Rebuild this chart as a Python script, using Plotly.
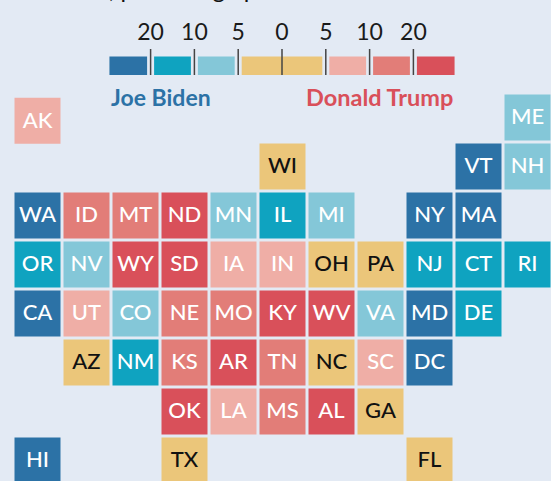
import plotly.graph_objects as go

BG = "#e3eaf4"
PALETTE = {"D3": "#2c72a6", "D2": "#0fa3c0", "D1": "#84c7d8", "N": "#ebc67a",
           "R1": "#efaea6", "R2": "#e27d78", "R3": "#d9505a"}

states = ["AK","ME","WI","VT","NH",
          "WA","ID","MT","ND","MN","IL","MI","NY","MA",
          "OR","NV","WY","SD","IA","IN","OH","PA","NJ","CT","RI",
          "CA","UT","CO","NE","MO","KY","WV","VA","MD","DE",
          "AZ","NM","KS","AR","TN","NC","SC","DC",
          "OK","LA","MS","AL","GA",
          "HI","TX","FL"]
cols = [0,10,5,9,10,
        0,1,2,3,4,5,6,8,9,
        0,1,2,3,4,5,6,7,8,9,10,
        0,1,2,3,4,5,6,7,8,9,
        1,2,3,4,5,6,7,8,
        3,4,5,6,7,
        0,3,8]
rows = [0.07,0,1,1,1,
        2,2,2,2,2,2,2,2,2,
        3,3,3,3,3,3,3,3,3,3,3,
        4,4,4,4,4,4,4,4,4,4,
        5,5,5,5,5,5,5,5,
        6,6,6,6,6,
        7,7,7]
bands = ["R1","D1","N","D3","D1",
         "D3","R2","R2","R3","D1","D2","D1","D3","D3",
         "D2","D1","R3","R3","R1","R1","N","N","D2","D2","D2",
         "D3","R1","D1","R2","R2","R3","R3","D1","D3","D2",
         "N","D2","R2","R3","R2","N","R1","D3",
         "R3","R1","R2","R3","N",
         "D3","N","N"]

# Legend, on a scale of equal class steps around 0
legend_bands = ["D3","D2","D1","N","R1","R2","R3"]
legend_lo = [-3.94,-3.0,-2.0,-1.0,1.0,2.0,3.0]
legend_hi = [-3.0,-2.0,-1.0,1.0,2.0,3.0,3.94]
tick_pos = [-3,-2,-1,0,1,2,3]
tick_labels = ["20","10","5","0","5","10","20"]

# scales: grid unit -> pixel
CX0, CDX = 37.5, 49.0
RY0, RDY = 117.4, 49.0
LX0, LDX = 282.0, 43.8
px = lambda c: CX0 + CDX * c
py = lambda r: RY0 + RDY * r
lx = lambda v: LX0 + LDX * v

fig = go.Figure()
shapes = []
for c, r, b in zip(cols, rows, bands):
    shapes.append(dict(type="rect", x0=px(c) - 23, x1=px(c) + 23,
                       y0=py(r) - 23, y1=py(r) + 23,
                       fillcolor=PALETTE[b], line_width=0, layer="below"))
for lo, hi, b in zip(legend_lo, legend_hi, legend_bands):
    shapes.append(dict(type="rect", x0=lx(lo) + (3.5 if lo != legend_lo[0] else 0),
                       x1=lx(hi) - (3.5 if hi != legend_hi[-1] else 0),
                       y0=56.5, y1=75, fillcolor=PALETTE[b], line_width=0, layer="below"))
for t in tick_pos:
    shapes.append(dict(type="line", x0=lx(t), x1=lx(t), y0=49, y1=75,
                       line=dict(color="#444444", width=1.5)))

fig.add_trace(go.Scatter(
    x=[px(c) for c in cols], y=[py(r) + 1.3 for r in rows], mode="text", text=states,
    textposition="middle center", hoverinfo="skip",
    textfont=dict(family="Lato, sans-serif", size=22, weight=500,
                  color=["#111111" if b == "N" else "#ffffff" for b in bands])))
fig.add_trace(go.Scatter(
    x=[lx(t) for t in tick_pos], y=[34] * len(tick_pos), mode="text", text=tick_labels,
    textposition="middle center", hoverinfo="skip",
    textfont=dict(family="Lato, sans-serif", size=23, color="#1a1a1a")))

ann = [
    dict(x=109, y=97, text="<b>Joe Biden</b>", xanchor="left", yanchor="middle", showarrow=False,
         font=dict(family="Lato, sans-serif", size=23, color=PALETTE["D3"])),
    dict(x=455, y=97, text="<b>Donald Trump</b>", xanchor="right", yanchor="middle", showarrow=False,
         font=dict(family="Lato, sans-serif", size=23.5, color=PALETTE["R3"])),
    dict(x=8, y=0, yshift=12, text="Vote lead, percentage points", xanchor="left", yanchor="middle", showarrow=False,
         font=dict(family="Lato, sans-serif", size=24, color="#111111")),
]

fig.update_layout(
    width=551, height=481, margin=dict(l=0, r=0, t=0, b=0), showlegend=False,
    paper_bgcolor=BG, plot_bgcolor=BG, shapes=shapes, annotations=[],
    xaxis=dict(range=[0, 551], visible=False, fixedrange=True),
    yaxis=dict(range=[481, 0], visible=False, fixedrange=True),
)
for a in ann:
    fig.add_annotation(**a)
fig.write_html("out.html", config={"displayModeBar": False},
               post_script="document.body.style.margin='0';document.body.style.background='%s';document.documentElement.style.overflow='hidden';" % BG)
